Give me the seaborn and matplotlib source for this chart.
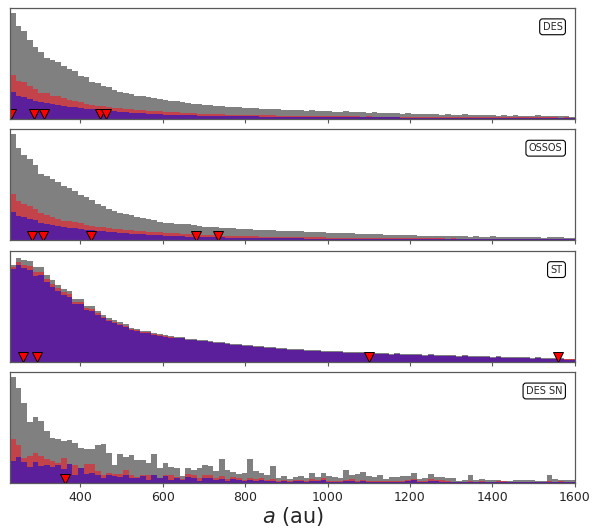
import numpy as np
import pandas as pd
import matplotlib
matplotlib.use("Agg")
import matplotlib.pyplot as plt
import seaborn as sns

# bin heights, 100 bins between a = 230 and 1600 au
a_min, a_max, n_bins = 230, 1600, 100

gray_des = [106, 93, 88, 79, 72, 67, 61, 59, 57, 53,
            50, 48, 43, 42, 37, 36, 33, 32, 29, 27,
            26, 25, 23, 23, 22, 21, 20, 19, 18, 18,
            17, 16, 15, 15, 14, 14, 13, 13, 12, 12,
            12, 11, 11, 11, 10, 10, 10, 10, 9, 9,
            9, 9, 8, 9, 8, 8, 8, 7, 7, 8,
            7, 7, 7, 6, 7, 6, 6, 6, 6, 5,
            6, 5, 5, 5, 5, 5, 4, 5, 4, 4,
            5, 4, 4, 4, 4, 4, 3, 4, 3, 4,
            3, 3, 3, 4, 3, 3, 3, 3, 3, 2]
red_des = [44, 38, 37, 33, 30, 26, 26, 23, 23, 21,
           19, 18, 17, 15, 14, 13, 13, 12, 11, 11,
           10, 10, 9, 9, 8, 8, 8, 7, 7, 7,
           6, 6, 6, 5, 5, 5, 5, 5, 4, 4,
           4, 4, 4, 4, 3.5, 3.5, 3.5, 3, 3, 3,
           3, 3, 3, 3, 3, 2.5, 2.5, 2.5, 2.5, 2.5,
           2.5, 2.5, 2, 2.5, 2, 2, 2, 2, 2, 2,
           2, 2, 2, 2, 2, 2, 1.5, 2, 1.5, 1.5,
           2, 1.5, 1.5, 1.5, 1.5, 1.5, 1.5, 1.5, 1.5, 1.5,
           1.5, 1.5, 1.5, 1.5, 1.5, 1.5, 1.5, 1, 1.5, 1]
purple_des = [27, 23, 22, 20, 18, 17, 16, 15, 14, 13,
              12, 12, 11, 10, 10, 9, 9, 8, 8, 7,
              7, 6, 6, 6, 5, 5, 5, 4, 4, 4,
              4, 3.5, 3.5, 3, 3, 3, 3, 3, 2.5, 2.5,
              2.5, 2.5, 2.5, 2.5, 2, 2, 2, 2, 2, 2,
              2, 2, 2, 2, 1.5, 1.5, 1.5, 1.5, 1.5, 1.5,
              1.5, 1.5, 1.5, 1.5, 1.5, 1.5, 1.5, 1.5, 1.5, 1.2,
              1.2, 1.2, 1.2, 1.2, 1.2, 1.2, 1.2, 1.2, 1.2, 1.2,
              1.2, 1.2, 1, 1.2, 1, 1, 1, 1, 1, 1,
              1, 1, 1, 1, 1, 1, 1, 1, 1, 1]

gray_ossos = [106, 92, 85, 81, 75, 66, 64, 61, 58, 54,
              52, 49, 45, 43, 40, 36, 34, 31, 29, 27,
              26, 25, 23, 22, 21, 20, 18, 17, 17, 16,
              16, 16, 15, 14, 13, 13, 13, 12, 12, 12,
              11, 11, 11, 10, 10, 10, 10, 9, 9, 9,
              9, 9, 8, 8, 8, 8, 7, 7, 7, 7,
              7, 6, 6, 6, 6, 6, 5, 5, 5, 5,
              5, 5, 4, 4, 4, 4, 4, 4, 4, 4,
              4, 3, 4, 3, 3, 4, 3, 3, 3, 3,
              3, 3, 3, 3, 2, 3, 3, 3, 2, 2]
red_ossos = [46, 39, 36, 34, 31, 27, 25, 23, 21, 19,
             19, 18, 17, 15, 14, 13, 13, 12, 11, 11,
             10, 10, 9, 9, 8, 8, 8, 7, 7, 7,
             6, 6, 6, 5, 5, 5, 5, 4.5, 4.5, 4.5,
             4, 4, 4, 4, 3.5, 3.5, 3.5, 3.5, 3, 3,
             3, 3, 3, 3, 3, 3, 2.5, 2.5, 2.5, 2.5,
             2.5, 2.5, 2.5, 2, 2, 2, 2, 2, 2, 2,
             2, 2, 2, 2, 2, 2, 2, 1.5, 2, 1.5,
             1.5, 1.5, 1.5, 1.5, 1.5, 1.5, 1.5, 1.5, 1.5, 1.5,
             1.5, 1.5, 1.5, 1.5, 1.5, 1, 1.5, 1.5, 1, 1]
purple_ossos = [28, 24, 23, 21, 20, 17, 16, 15, 14, 13,
                12, 12, 11, 10, 10, 9, 9, 8, 8, 7,
                7, 6, 6, 6, 5, 5, 5, 4, 4, 4,
                4, 3, 3, 3, 3, 3, 3, 3, 2.5, 2.5,
                2.5, 2.5, 2.5, 2, 2, 2, 2, 2, 2, 2,
                2, 2, 1.5, 1.5, 1.5, 1.5, 1.5, 1.5, 1.5, 1.5,
                1.5, 1.5, 1.5, 1.5, 1.2, 1.2, 1.2, 1.2, 1.2, 1.2,
                1.2, 1.2, 1.2, 1.2, 1.2, 1.2, 1.2, 1, 1.2, 1,
                1, 1, 1, 1, 1, 1, 1, 1, 1, 1,
                1, 1, 1, 1, 1, 1, 1, 1, 1, 1]

gray_st = [97, 104, 102, 101, 95, 95, 87, 82, 77, 73,
           71, 63, 63, 56, 56, 51, 47, 44, 42, 40,
           38, 34, 33, 31, 31, 29, 28, 27, 26, 25,
           25, 23, 23, 22, 22, 21, 20, 20, 19, 18,
           18, 17, 17, 16, 16, 15, 15, 14, 14, 13,
           13, 13, 12, 12, 12, 11, 11, 11, 11, 10,
           10, 10, 10, 9, 9, 9, 9, 8, 9, 8,
           8, 8, 8, 7, 8, 7, 7, 7, 7, 6,
           7, 6, 6, 6, 6, 5, 6, 5, 5, 5,
           5, 5, 4, 5, 4, 4, 4, 4, 3, 3]
red_st = [95, 100, 97, 96, 90, 90, 83, 78, 74, 70,
          68, 60, 60, 54, 53, 49, 45, 42, 40, 38,
          36, 33, 32, 30, 30, 28, 27, 26, 25, 24,
          24, 22, 22, 21, 21, 20, 19, 19, 18, 17,
          17, 16, 16, 15, 15, 14, 14, 13, 13, 12,
          12, 12, 11, 11, 11, 10, 10, 10, 10, 9,
          9, 9, 9, 8, 8, 8, 8, 7, 8, 7,
          7, 7, 7, 6, 7, 6, 6, 6, 6, 5,
          6, 5, 5, 5, 5, 4, 5, 4, 4, 4,
          4, 4, 3, 4, 3, 3, 3, 3, 2.5, 2.5]
purple_st = [93, 97, 94, 92, 86, 87, 80, 75, 71, 67,
             65, 58, 58, 52, 51, 47, 44, 41, 39, 37,
             35, 32, 31, 29, 29, 27, 26, 25, 24, 23.5,
             23.5, 21.5, 21.5, 20.5, 20.5, 19.5, 18.5, 18.5, 17.5, 16.5,
             16.5, 15.5, 15.5, 14.5, 14.5, 13.5, 13.5, 12.5, 12.5, 11.5,
             11.5, 11.5, 10.5, 10.5, 10.5, 9.5, 9.5, 9.5, 9.5, 8.5,
             8.5, 8.5, 8.5, 7.5, 7.5, 7.5, 7.5, 6.5, 7.5, 6.5,
             6.5, 6.5, 6.5, 5.5, 6.5, 5.5, 5.5, 5.5, 5.5, 4.5,
             5.5, 4.5, 4.5, 4.5, 4.5, 3.5, 4.5, 3.5, 3.5, 3.5,
             3.5, 3.5, 2.5, 3.5, 2.5, 2.5, 2.5, 2.5, 2, 2]

gray_dessn = [106, 95, 80, 61, 66, 62, 52, 45, 44, 42,
              43, 40, 35, 34, 34, 38, 39, 30, 18, 29,
              26, 28, 23, 23, 20, 29, 15, 20, 16, 15,
              7, 15, 13, 15, 18, 17, 12, 24, 13, 11,
              9, 10, 24, 12, 10, 8, 17, 5, 7, 4,
              6, 7, 5, 10, 6, 10, 7, 6, 5, 13,
              8, 9, 11, 7, 6, 8, 4, 6, 6, 7,
              7, 10, 4, 5, 9, 6, 6, 5, 5, 2,
              3, 8, 3, 4, 3, 3, 3, 2, 2, 3,
              3, 3, 3, 2, 2, 8, 4, 3, 3, 3]
red_dessn = [44, 38, 25, 27, 30, 27, 24, 22, 20, 25,
             18, 18, 12, 19, 19, 12, 8, 10, 9, 9,
             13, 8, 6, 8, 8, 7, 5, 8, 8, 6,
             4, 9, 8, 5, 8, 8, 5, 7, 4, 6,
             5, 3, 5, 4, 5, 3, 4, 2, 3, 2,
             3, 3, 2, 4, 3, 5, 2, 2, 2, 3,
             4, 2, 3, 2, 2, 2, 2, 2, 2, 2,
             3, 4, 2, 2, 4, 3, 3, 2, 1, 1,
             1, 2, 1, 2, 1, 1, 2, 2, 1, 1,
             1, 1, 1, 1, 1, 2, 1, 2, 1, 1]
purple_dessn = [22, 26, 21, 16, 21, 17, 18, 16, 18, 14,
                19, 8, 15, 9, 10, 8, 5, 8, 7, 6,
                8, 5, 5, 7, 3, 8, 5, 7, 3, 5,
                3, 6, 5, 2, 5, 5, 3, 4, 2, 4,
                3, 2, 3, 2, 3, 2, 2, 1, 2, 1,
                2, 2, 1, 2, 2, 3, 1, 1, 1, 2,
                2, 1, 2, 1, 1, 1, 1, 1, 1, 1,
                2, 3, 1, 1, 2, 2, 1, 1, 0.5, 0.5,
                0.5, 1, 0.5, 1, 0.5, 0.5, 1, 1, 0.5, 0.5,
                0.5, 0.5, 0.5, 0.5, 0.5, 1, 0.5, 1, 0.5, 0.5]

# detected objects (triangles)
det_des = [232, 288, 312, 447, 462]
det_ossos = [282, 310, 426, 680, 733]
det_st = [262, 296, 1101, 1560]
det_dessn = [364]

surveys = ["DES", "OSSOS", "ST", "DES SN"]
series = {
    "DES": (gray_des, red_des, purple_des, det_des),
    "OSSOS": (gray_ossos, red_ossos, purple_ossos, det_ossos),
    "ST": (gray_st, red_st, purple_st, det_st),
    "DES SN": (gray_dessn, red_dessn, purple_dessn, det_dessn),
}
colors = ["#808080", "#c2434a", "#5b1f9c"]

bw = (a_max - a_min) / n_bins
centres = a_min + bw * (np.arange(n_bins) + 0.5)

sns.set_style("white")
fig, axes = plt.subplots(4, 1, figsize=(5.97, 5.31), dpi=100, sharex=True)
fig.subplots_adjust(left=0.017, right=0.963, top=0.985, bottom=0.0904, hspace=0.095)

for ax, name in zip(axes, surveys):
    gray, red, purple, det = series[name]
    for vals, c in zip((gray, red, purple), colors):
        df = pd.DataFrame({"a": centres, "n": vals})
        sns.histplot(data=df, x="a", weights="n", bins=n_bins, binrange=(a_min, a_max),
                     element="step", fill=True, alpha=1, linewidth=0, color=c, ax=ax)
    ax.plot(det, [0.04] * len(det), "v", ms=6.5, mfc="red", mec="black", mew=0.7,
            transform=ax.get_xaxis_transform(), clip_on=True)
    ax.text(0.978, 0.83, name, transform=ax.transAxes, ha="right", va="center",
            fontsize=7, bbox=dict(boxstyle="round,pad=0.3", fc="white", ec="black", lw=0.8))
    ax.set_xlim(a_min, a_max)
    ax.set_ylim(0, 111)
    ax.set_yticks([])
    ax.set_ylabel("")
    ax.set_xlabel("")
    for s in ax.spines.values():
        s.set_color("0.35")
        s.set_linewidth(0.9)
    ax.tick_params(axis="x", direction="out", length=3, width=0.8, color="0.35",
                   labelsize=9, pad=2.5, bottom=True)

axes[-1].set_xticks([400, 600, 800, 1000, 1200, 1400, 1600])
axes[-1].set_xlabel("$a$ (au)", fontsize=15, labelpad=1)

fig.savefig("out.png", dpi=100)
